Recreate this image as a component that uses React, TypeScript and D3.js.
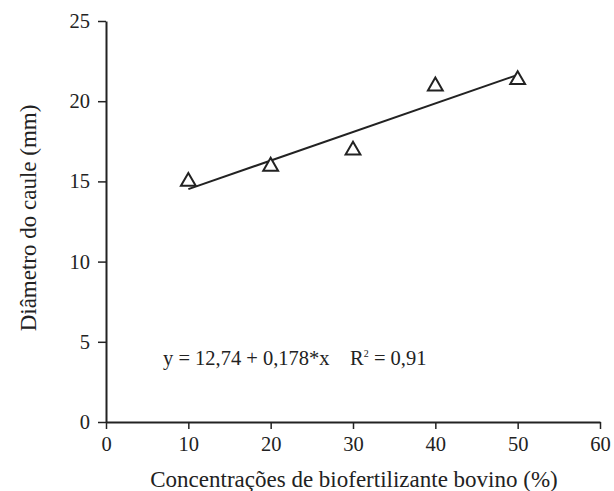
import React, { useEffect, useRef } from "react";
import * as d3 from "d3";

const concentrations = [10, 20, 30, 40, 50];
const diameters = [15.05, 16.0, 17.0, 21.0, 21.4];
const xTicks = [0, 10, 20, 30, 40, 50, 60];
const yTicks = [0, 5, 10, 15, 20, 25];
const intercept = 12.74;
const slope = 0.178;

const App = () => {
  const svgRef = useRef<SVGSVGElement>(null);
  const width = 614;
  const height = 491;

  useEffect(() => {
    const svg = d3.select(svgRef.current);
    svg.selectAll("*").remove();

    const marginLeft = 106;
    const marginRight = 14;
    const marginTop = 21;
    const marginBottom = 69;
    const font = "Liberation Serif";
    const ink = "#222";

    const x = d3.scaleLinear().domain([0, 60]).range([marginLeft, width - marginRight]);
    const y = d3.scaleLinear().domain([0, 25]).range([height - marginBottom, marginTop]);

    // x axis
    svg.append("g")
      .attr("transform", `translate(0,${height - marginBottom})`)
      .call(d3.axisBottom(x).tickValues(xTicks).tickSize(7).tickSizeOuter(0).tickPadding(7))
      .attr("font-family", font)
      .attr("font-size", 20.5)
      .call(g => g.select(".domain").attr("stroke", ink).attr("stroke-width", 2))
      .call(g => g.selectAll(".tick line").attr("stroke", ink).attr("stroke-width", 1.5))
      .call(g => g.selectAll(".tick text").attr("fill", ink));

    // y axis
    svg.append("g")
      .attr("transform", `translate(${marginLeft},0)`)
      .call(d3.axisLeft(y).tickValues(yTicks).tickSize(8).tickSizeOuter(0).tickPadding(8))
      .attr("font-family", font)
      .attr("font-size", 20.5)
      .call(g => g.select(".domain").attr("stroke", ink).attr("stroke-width", 2))
      .call(g => g.selectAll(".tick line").attr("stroke", ink).attr("stroke-width", 1.5))
      .call(g => g.selectAll(".tick text").attr("fill", ink));

    // regression line
    svg.append("line")
      .attr("x1", x(10))
      .attr("y1", y(intercept + slope * 10))
      .attr("x2", x(50))
      .attr("y2", y(intercept + slope * 50))
      .attr("stroke", ink)
      .attr("stroke-width", 2);

    // triangle markers
    const tri = d3.symbol().type(d3.symbolTriangle).size(95);
    svg.append("g")
      .selectAll("path")
      .data(concentrations)
      .join("path")
      .attr("d", tri)
      .attr("transform", (d, i) => `translate(${x(d)},${y(diameters[i]) + 1})`)
      .attr("fill", "white")
      .attr("stroke", ink)
      .attr("stroke-width", 2);

    // equation
    const eq = svg.append("text")
      .attr("x", 163)
      .attr("y", 365)
      .attr("fill", ink)
      .attr("font-family", font)
      .attr("font-size", 20.5)
      .style("white-space", "pre");
    eq.append("tspan").text("y = 12,74 + 0,178*x    R");
    eq.append("tspan").text("2").attr("dy", -8).attr("font-size", 10);
    eq.append("tspan").text(" = 0,91").attr("dy", 8);

    // axis titles
    svg.append("text")
      .attr("x", 354)
      .attr("y", 487)
      .attr("text-anchor", "middle")
      .attr("fill", ink)
      .attr("font-family", font)
      .attr("font-size", 23)
      .text("Concentrações de biofertilizante bovino (%)");

    svg.append("text")
      .attr("transform", `translate(36,218) rotate(-90)`)
      .attr("text-anchor", "middle")
      .attr("fill", ink)
      .attr("font-family", font)
      .attr("font-size", 23)
      .text("Diâmetro do caule (mm)");
  }, []);

  return (
    <svg
      ref={svgRef}
      width={width}
      height={height}
      style={{ position: "absolute", left: 0, top: 0, background: "white" }}
    ></svg>
  );
};

export default App;
